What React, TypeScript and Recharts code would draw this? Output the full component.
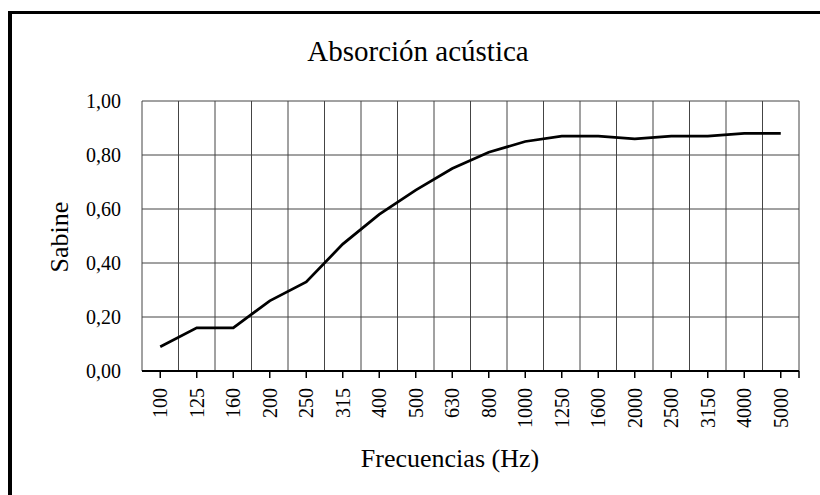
import { LineChart, Line, XAxis, YAxis, CartesianGrid } from "recharts";

const frequencies = ["100", "125", "160", "200", "250", "315", "400", "500", "630", "800", "1000", "1250", "1600", "2000", "2500", "3150", "4000", "5000"];
const sabine = [0.09, 0.16, 0.16, 0.26, 0.33, 0.47, 0.58, 0.67, 0.75, 0.81, 0.85, 0.87, 0.87, 0.86, 0.87, 0.87, 0.88, 0.88];
const yTicks = [0, 0.2, 0.4, 0.6, 0.8, 1];

const data = frequencies.map((f, i) => ({ f, v: sabine[i] }));

const FONT = "'Liberation Serif', 'Times New Roman', serif";
const PLOT_W = 657;
const HALF_BAND = PLOT_W / frequencies.length / 2;

const FreqTick = ({ x, y, payload, index }: any) => (
    <g>
        {index === frequencies.length - 1 && (
            <line x1={x + HALF_BAND} x2={x + HALF_BAND} y1={y - 9} y2={y - 2} stroke="#000" strokeWidth={1.5} />
        )}
        <text
            x={x}
            y={y + 8}
            transform={`rotate(-90, ${x}, ${y + 8})`}
            textAnchor="end"
            dy="0.35em"
            fontSize={20}
            fontFamily={FONT}
            fill="#000"
        >
            {payload.value}
        </text>
    </g>
);

export default function App() {
    return (
        <div style={{ position: "absolute", left: 0, top: 0, width: 820, height: 495, background: "#fff", fontFamily: FONT, color: "#000" }}>
            {/* frame: only left and top edges are inside the picture */}
            <div style={{ position: "absolute", left: 8, top: 11, width: 4, height: 484, background: "#000" }} />
            <div style={{ position: "absolute", left: 8, top: 11, width: 812, height: 3, background: "#000" }} />

            <div style={{ position: "absolute", left: 218, top: 37, width: 400, textAlign: "center", fontSize: 29, lineHeight: "29px" }}>
                Absorción acústica
            </div>
            <div
                style={{
                    position: "absolute",
                    left: 10,
                    top: 224,
                    width: 100,
                    height: 26,
                    lineHeight: "26px",
                    textAlign: "center",
                    fontSize: 26,
                    transform: "rotate(-90deg)",
                }}
            >
                Sabine
            </div>
            <div style={{ position: "absolute", left: 300, top: 446, width: 300, textAlign: "center", fontSize: 26, lineHeight: "26px" }}>
                Frecuencias (Hz)
            </div>

            <div style={{ position: "absolute", left: 12, top: 14 }}>
                <LineChart width={808} height={481} data={data} margin={{ top: 87, right: 21, bottom: 64, left: 0 }}>
                    <CartesianGrid
                        stroke="#444"
                        strokeWidth={1}
                        verticalCoordinatesGenerator={({ offset }: any) =>
                            Array.from({ length: frequencies.length + 1 }, (_, i) => offset.left + (i * offset.width) / frequencies.length)
                        }
                    />
                    <XAxis
                        dataKey="f"
                        interval={0}
                        height={60}
                        padding={{ left: HALF_BAND, right: HALF_BAND }}
                        tick={<FreqTick />}
                        tickSize={7}
                        axisLine={{ stroke: "#000", strokeWidth: 2 }}
                        tickLine={{ stroke: "#000", strokeWidth: 1.5 }}
                    />
                    <YAxis
                        width={130}
                        domain={[0, 1]}
                        ticks={yTicks}
                        tickFormatter={(v: number) => v.toFixed(2).replace(".", ",")}
                        axisLine={false}
                        tickLine={false}
                        tickSize={0}
                        tickMargin={21}
                        tick={{ fontSize: 20, fontFamily: FONT, fill: "#000" }}
                    />
                    <Line
                        type="linear"
                        dataKey="v"
                        stroke="#000"
                        strokeWidth={2.75}
                        dot={false}
                        isAnimationActive={false}
                    />
                </LineChart>
            </div>
        </div>
    );
}
